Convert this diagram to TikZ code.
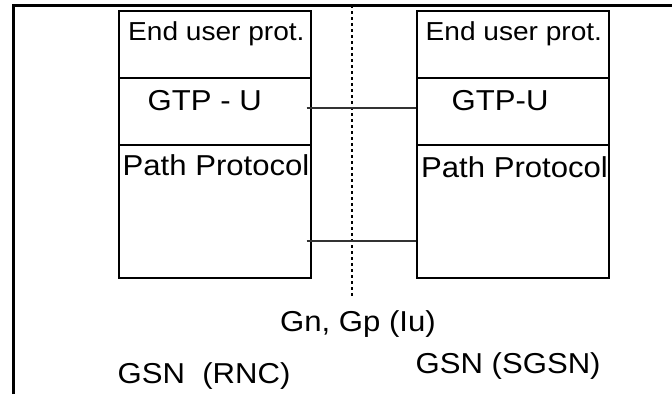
\documentclass[tikz,border=0pt]{standalone}
\usepackage{fontspec}
\setmainfont[FakeStretch=1.08]{Liberation Sans}
\begin{document}
\begin{tikzpicture}[x=1pt,y=-1pt,
  frame/.style={line width=3pt,black},
  layer/.style={draw,line width=1.8pt,rectangle,inner sep=0pt,minimum width=192.3pt,anchor=north west},
  lbl/.style={anchor=base west,inner sep=0pt,font=\fontsize{28.8}{34}\selectfont},
  small/.style={lbl,font=\fontsize{26}{31}\selectfont},
  conn/.style={line width=1.3pt,black!80},
  ref/.style={line width=1.8pt,dash pattern=on 3.3pt off 2.7pt}]
\useasboundingbox (0,0) rectangle (672,394);
% frame
\coordinate (ftl) at (13.3,5);
\coordinate (ftr) at (672,5);
\coordinate (fbl) at (13.3,394);
\draw[frame] (fbl) -- (ftl) -- (ftr);
% left stack
\node[layer,minimum height=67pt] (lEnd) at (117.7,10) {};
\node[layer,minimum height=67pt] (lGTP) at (117.7,77) {};
\node[layer,minimum height=133pt] (lPath) at (117.7,144) {};
% right stack
\node[layer,minimum height=67pt] (rEnd) at (415.7,10) {};
\node[layer,minimum height=67pt] (rGTP) at (415.7,77) {};
\node[layer,minimum height=133pt] (rPath) at (415.7,144) {};
% texts
\node[small] (tlEnd) at (128,40) {End user prot.};
\node[small] (trEnd) at (425.5,40) {End user prot.};
\node[lbl] (tlGTP) at (147.5,110) {GTP - U};
\node[lbl] (trGTP) at (451.5,110) {GTP-U};
\node[lbl] (tlPath) at (122.5,175.3) {Path Protocol};
\node[lbl] (trPath) at (421,177.5) {Path Protocol};
\node[lbl] (tGn) at (280,331.7) {Gn, Gp (Iu)};
\node[lbl] (tRNC) at (117.5,383) {GSN\ \ (RNC)};
\node[lbl] (tSGSN) at (415.5,373) {GSN (SGSN)};
% reference point line
\coordinate (dTop) at (352,5);
\coordinate (dBot) at (352,298);
\draw[ref] (dTop) -- (dBot);
% connectors
\coordinate (c1a) at (306.7,108);
\coordinate (c2a) at (306.7,241);
\draw[conn] (c1a) -- (c1a -| rGTP.west);
\draw[conn] (c2a) -- (c2a -| rPath.west);
\end{tikzpicture}
\end{document}
